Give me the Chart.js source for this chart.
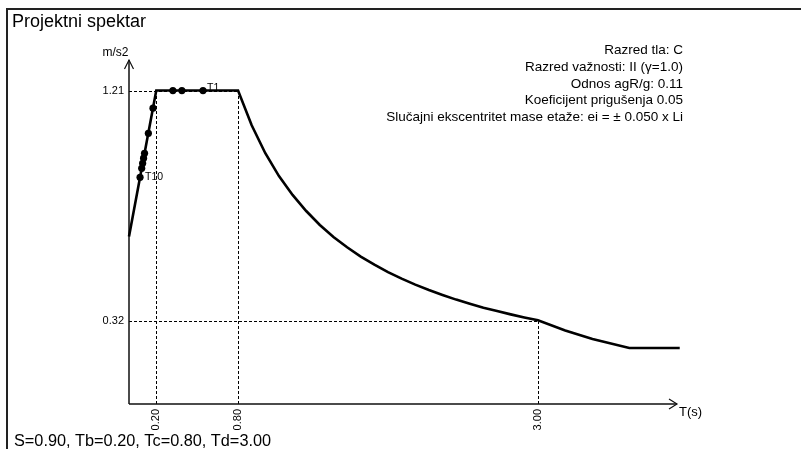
<!DOCTYPE html>
<html><head><meta charset="utf-8">
<script src="https://cdn.jsdelivr.net/npm/chart.js@4/dist/chart.umd.min.js"></script>
<style>html,body{margin:0;padding:0;background:#fff;overflow:hidden}canvas{display:block}</style>
</head><body>
<canvas id="c" width="801" height="449"></canvas>
<script>
// ---- data ----
const titleText = "Projektni spektar";
const footerText = "S=0.90, Tb=0.20, Tc=0.80, Td=3.00";
const infoLines = [
  "Razred tla: C",
  "Razred važnosti: II (γ=1.0)",
  "Odnos agR/g: 0.11",
  "Koeficijent prigušenja 0.05",
  "Slučajni ekscentritet mase etaže: ei = ± 0.050 x Li"
];
const yAxisTitle = "m/s2";
const xAxisTitle = "T(s)";

// design spectrum (period T in s, Sd in m/s2)
const spectrumT  = [0, 0.20, 0.80, 0.90, 1.00, 1.10, 1.20, 1.30, 1.40, 1.50, 1.60, 1.70, 1.80, 1.90, 2.00, 2.10, 2.20, 2.30, 2.40, 2.50, 2.60, 2.70, 2.80, 2.90, 3.00, 3.20, 3.40, 3.67, 4.04];
const spectrumSd = [0.647, 1.21, 1.21, 1.076, 0.968, 0.880, 0.807, 0.745, 0.691, 0.645, 0.605, 0.569, 0.538, 0.509, 0.484, 0.461, 0.440, 0.421, 0.403, 0.387, 0.372, 0.359, 0.346, 0.334, 0.323, 0.284, 0.251, 0.216, 0.216];

// mode periods T1..T10 and their spectral values
const modeNames = ["T1", "T2", "T3", "T4", "T5", "T6", "T7", "T8", "T9", "T10"];
const modeT  = [0.543, 0.388, 0.322, 0.176, 0.142, 0.114, 0.107, 0.100, 0.093, 0.081];
const modeSd = [1.21, 1.21, 1.21, 1.142, 1.045, 0.968, 0.949, 0.929, 0.910, 0.875];
const labelledModes = ["T1", "T10"];

// characteristic periods and levels (tick labels)
const xTickValues = [0.20, 0.80, 3.00];
const xTickLabels = ["0.20", "0.80", "3.00"];
const yTickValues = [1.21, 0.32];
const yTickLabels = ["1.21", "0.32"];
// dashed guide corners (T, Sd)
const guideT  = [0.20, 0.80, 3.00];
const guideSd = [1.21, 1.21, 0.32];

// ---- drawing ----
const FONT = '"Liberation Sans", Arial, sans-serif';

const decor = {
  id: 'decor',
  beforeDatasetsDraw(chart) {
    const {ctx, chartArea: a, scales: {x, y}} = chart;
    ctx.save();
    ctx.strokeStyle = '#000';
    ctx.lineWidth = 1;
    ctx.setLineDash([3, 2]);
    for (let i = 0; i < guideT.length; i++) {
      const px = Math.round(x.getPixelForValue(guideT[i])) + 0.5;
      const py = Math.round(y.getPixelForValue(guideSd[i])) + 0.5;
      ctx.beginPath();
      ctx.moveTo(px, y.getPixelForValue(0));
      ctx.lineTo(px, py);
      ctx.stroke();
      ctx.beginPath();
      ctx.moveTo(x.getPixelForValue(0), py);
      ctx.lineTo(px, py);
      ctx.stroke();
    }
    ctx.setLineDash([]);
    const x0 = x.getPixelForValue(0), y0 = y.getPixelForValue(0);
    ctx.strokeStyle = '#111';
    ctx.lineWidth = 1.5;
    ctx.beginPath();
    ctx.moveTo(x0, y0); ctx.lineTo(x0, a.top);
    ctx.moveTo(x0, y0); ctx.lineTo(a.right, y0);
    ctx.stroke();
    ctx.lineWidth = 1.2;
    ctx.beginPath();
    ctx.moveTo(x0 - 4.5, a.top + 9); ctx.lineTo(x0, a.top); ctx.lineTo(x0 + 4.5, a.top + 9);
    ctx.moveTo(a.right - 8, y0 - 5); ctx.lineTo(a.right, y0); ctx.lineTo(a.right - 8, y0 + 5);
    ctx.stroke();
    ctx.restore();
  },
  afterDraw(chart) {
    const {ctx, chartArea: a, scales: {x, y}} = chart;
    const x0 = x.getPixelForValue(0), y0 = y.getPixelForValue(0);
    ctx.save();
    ctx.strokeStyle = '#222';
    ctx.lineWidth = 2;
    ctx.beginPath();
    ctx.moveTo(7, 449); ctx.lineTo(7, 9); ctx.lineTo(801, 9);
    ctx.stroke();
    ctx.fillStyle = '#000';
    ctx.font = '18px ' + FONT;
    ctx.textAlign = 'left'; ctx.textBaseline = 'alphabetic';
    ctx.fillText(titleText, 12, 27);
    ctx.font = '16.3px ' + FONT;
    ctx.fillText(footerText, 14, 446);
    ctx.font = '13.5px ' + FONT;
    ctx.textAlign = 'right';
    infoLines.forEach((t, i) => ctx.fillText(t, 683, 54 + i * 16.8));
    ctx.font = '12px ' + FONT;
    ctx.textAlign = 'right';
    ctx.fillText(yAxisTitle, x0 - 0.5, a.top - 4);
    ctx.font = '13px ' + FONT;
    ctx.textAlign = 'left';
    ctx.fillText(xAxisTitle, a.right + 2, y0 + 12);
    ctx.font = '11px ' + FONT;
    ctx.textAlign = 'right'; ctx.textBaseline = 'middle';
    yTickValues.forEach((v, i) => ctx.fillText(yTickLabels[i], x0 - 5, y.getPixelForValue(v)));
    xTickValues.forEach((v, i) => {
      ctx.save();
      ctx.translate(x.getPixelForValue(v), y0 + 5);
      ctx.rotate(-Math.PI / 2);
      ctx.textAlign = 'right'; ctx.textBaseline = 'middle';
      ctx.fillText(xTickLabels[i], 0, 0);
      ctx.restore();
    });
    ctx.font = '10.5px ' + FONT;
    ctx.textAlign = 'left';
    modeNames.forEach((n, i) => {
      if (!labelledModes.includes(n)) return;
      const px = x.getPixelForValue(modeT[i]), py = y.getPixelForValue(modeSd[i]);
      if (i === 0) { ctx.textBaseline = 'alphabetic'; ctx.fillText(n, px + 4, py); }
      else { ctx.textBaseline = 'middle'; ctx.fillText(n, px + 5, py); }
    });
    ctx.restore();
  }
};

new Chart(document.getElementById('c'), {
  type: 'scatter',
  data: {
    datasets: [
      {
        label: 'modes',
        data: modeT.map((t, i) => ({x: t, y: modeSd[i]})),
        pointRadius: 3.6,
        pointBackgroundColor: '#000',
        pointBorderColor: '#000',
        pointBorderWidth: 0,
        showLine: false,
        order: 0,
        clip: false
      },
      {
        label: 'spectrum',
        data: spectrumT.map((t, i) => ({x: t, y: spectrumSd[i]})),
        showLine: true,
        borderColor: '#000',
        borderWidth: 2.6,
        pointRadius: 0,
        tension: 0,
        order: 1,
        clip: false
      }
    ]
  },
  options: {
    responsive: false,
    animation: false,
    events: [],
    layout: {padding: {left: 129, right: 124, top: 60, bottom: 45}},
    plugins: {legend: {display: false}, tooltip: {enabled: false}, title: {display: false}},
    scales: {
      x: {type: 'linear', min: 0, max: 4.02, display: false},
      y: {type: 'linear', min: 0, max: 1.328, display: false}
    }
  },
  plugins: [decor]
});
</script>
</body></html>
